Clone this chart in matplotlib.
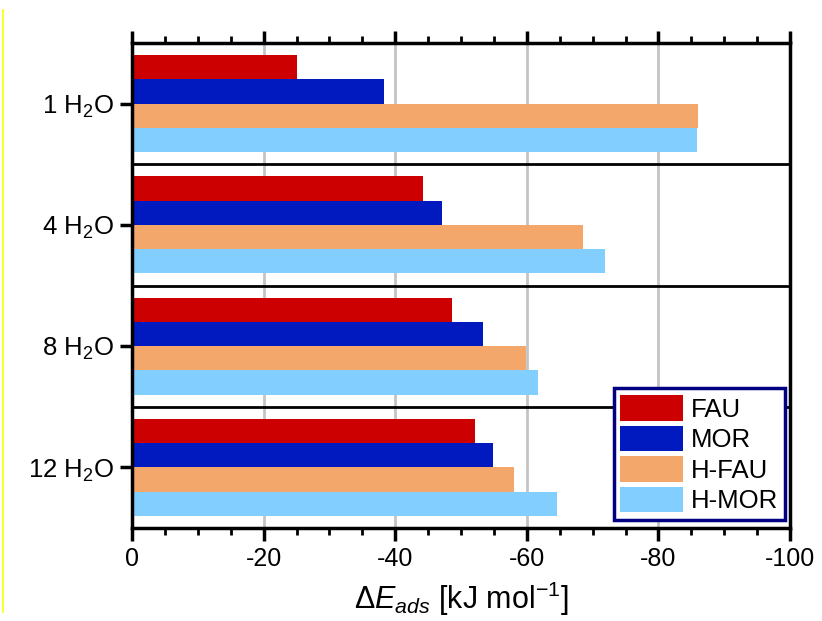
import matplotlib
matplotlib.use("Agg")
import matplotlib.pyplot as plt
from matplotlib.ticker import MultipleLocator
import numpy as np

plt.rcParams['font.family'] = ['Liberation Sans', 'DejaVu Sans']
plt.rcParams['mathtext.fontset'] = 'custom'
plt.rcParams['mathtext.rm'] = 'Liberation Sans'
plt.rcParams['mathtext.it'] = 'Liberation Sans:italic'

categories = ['1 H$_2$O', '4 H$_2$O', '8 H$_2$O', '12 H$_2$O']
series_names = ['FAU', 'MOR', 'H-FAU', 'H-MOR']
fau = [-25.1, -44.2, -48.7, -52.1]
mor = [-38.3, -47.1, -53.3, -54.9]
h_fau = [-86.0, -68.5, -59.9, -58.1]
h_mor = [-85.8, -71.9, -61.7, -64.6]
x_ticks = [0, -20, -40, -60, -80, -100]
colors = ['#CC0000', '#001ABF', '#F3A76A', '#82CFFF']

fig = plt.figure(figsize=(8.22, 6.21), dpi=100)
ax = fig.add_axes([132/822, 1-528/621, (790-132)/822, (528-43)/621])

y = np.arange(len(categories))
h = 0.2
offsets = [-0.3, -0.1, 0.1, 0.3]
for vals, name, c, off in zip([fau, mor, h_fau, h_mor], series_names, colors, offsets):
    ax.barh(y + off, vals, height=h, color=c, label=name, zorder=2)

for s in [0.5, 1.5, 2.5]:
    ax.axhline(s, color='black', lw=2, zorder=3)

ax.set_xlim(0, -100)
ax.set_ylim(3.5, -0.5)
ax.set_xticks(x_ticks)
ax.set_xticklabels([str(v) for v in x_ticks])
ax.xaxis.set_minor_locator(MultipleLocator(5))
ax.set_yticks(y)
ax.set_yticklabels(categories)
ax.grid(axis='x', which='major', color='#c4c4c4', lw=2, zorder=0)
ax.set_axisbelow(True)

for sp in ax.spines.values():
    sp.set_linewidth(2.5)
    sp.set_zorder(4)

ax.tick_params(axis='x', which='both', top=True, bottom=True, direction='out', labelsize=18, pad=5)
ax.tick_params(axis='x', which='major', length=9, width=2.5)
ax.tick_params(axis='x', which='minor', length=5, width=2)
ax.tick_params(axis='y', which='both', left=True, right=False, direction='out', length=9, width=2.5, labelsize=18.5, pad=4)
ax.yaxis.set_tick_params(which='minor', left=False)

ax.set_xlabel(r'$\Delta E_{ads}$ [kJ mol$^{-1}$]', fontsize=22, labelpad=6)

leg = ax.legend(loc='lower right', bbox_to_anchor=(785/822, 1-520/621), bbox_transform=fig.transFigure,
                borderaxespad=0, fontsize=18.5, frameon=True, fancybox=False, framealpha=1,
                handlelength=2.45, handleheight=1.15, labelspacing=0.16,
                handletextpad=0.3, borderpad=0.26)
leg.get_frame().set_edgecolor('#000080')
leg.get_frame().set_linewidth(2.5)
leg.set_zorder(5)

fig.add_artist(plt.Line2D([3/822, 3/822], [1-10/621, 1-612/621], color='#FFFF00', lw=1.2))

fig.savefig('out.png', dpi=100)
